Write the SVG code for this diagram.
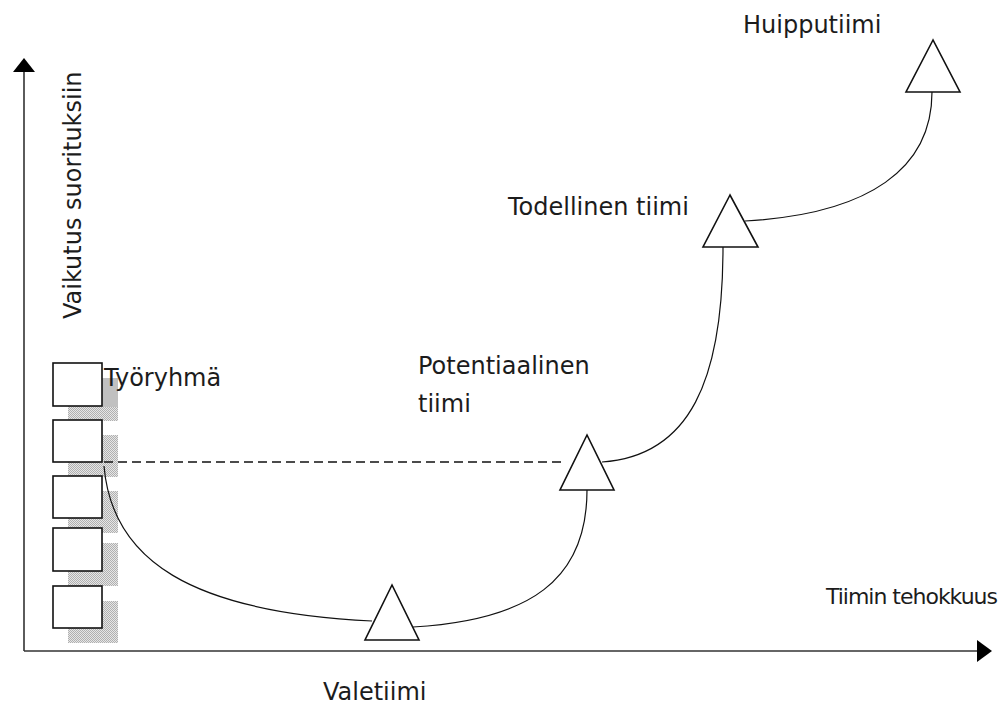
<svg xmlns="http://www.w3.org/2000/svg" width="1006" height="704" viewBox="0 0 1006 704">
<style>
text{font-family:"DejaVu Sans","Liberation Sans",sans-serif;font-size:24px;fill:#1c1c1c}
.sq{fill:#fff;stroke:#111;stroke-width:1.6}
.sh{fill:url(#dots);stroke:none}
.tri{fill:#fff;stroke:#111;stroke-width:1.6}
.cv{fill:none;stroke:#111;stroke-width:1.2}
.axis{stroke:#333;stroke-width:1.6;fill:none}
</style>
<defs>
<pattern id="dots" width="2" height="2" patternUnits="userSpaceOnUse">
<rect width="2" height="2" fill="#e6e6e6"/>
<rect width="1" height="1" fill="#b0b0b0"/>
<rect x="1" y="1" width="1" height="1" fill="#b0b0b0"/>
</pattern>
</defs>
<rect width="1006" height="704" fill="#fff"/>

<g id="axes">
<line class="axis" x1="24" y1="70" x2="24" y2="651"/>
<polygon points="24,58 13,72 35,72" fill="#000"/>
<line class="axis" x1="24" y1="651" x2="978" y2="651"/>
<polygon points="992,651 977,640 977,662" fill="#000"/>
<text transform="translate(81,319) rotate(-90)">Vaikutus suorituksiin</text>
<text x="826" y="604" style="font-size:22px" textLength="172" lengthAdjust="spacing">Tiimin tehokkuus</text>
</g>

<g id="tyoryhma">
<rect class="sh" x="68" y="378" width="50" height="43"/>
<rect x="102" y="378" width="16" height="29" fill="#c0c0c0"/>
<rect class="sh" x="68" y="435" width="50" height="42"/>
<rect class="sh" x="68" y="491" width="50" height="42"/>
<rect class="sh" x="68" y="543" width="50" height="43"/>
<rect class="sh" x="68" y="601" width="50" height="42"/>
<rect class="sq" x="53" y="363" width="49" height="43"/>
<rect class="sq" x="53" y="420" width="49" height="42"/>
<rect class="sq" x="53" y="476" width="49" height="42"/>
<rect x="68" y="528" width="34" height="5" fill="#c0c0c0"/>
<rect class="sq" x="53" y="528" width="49" height="43"/>
<rect class="sq" x="53" y="586" width="49" height="42"/>
<text x="104" y="386">Työryhmä</text>
</g>

<g id="connectors">
<line x1="104" y1="462" x2="562" y2="462" stroke="#111" stroke-width="1.5" stroke-dasharray="9 5"/>
<path class="cv" d="M104,466 C112,560 190,612 372,621"/>
<path class="cv" d="M413,627 C530,620 587,580 587,490"/>
<path class="cv" d="M602,462 C690,456 723,380 723,247"/>
<path class="cv" d="M745,221 C870,214 932,168 932,92"/>
</g>

<g id="valetiimi">
<polygon class="tri" points="392,585 365,640 419,640"/>
<text x="323" y="700">Valetiimi</text>
</g>

<g id="potentiaalinen">
<polygon class="tri" points="587,435 560,490 614,490"/>
<text x="418" y="374">Potentiaalinen</text>
<text x="418" y="412">tiimi</text>
</g>

<g id="todellinen">
<polygon class="tri" points="730,195 703,247 758,247"/>
<text x="508" y="215">Todellinen tiimi</text>
</g>

<g id="huipputiimi">
<polygon class="tri" points="933,40 906,92 960,92"/>
<text x="743" y="33">Huipputiimi</text>
</g>
</svg>
